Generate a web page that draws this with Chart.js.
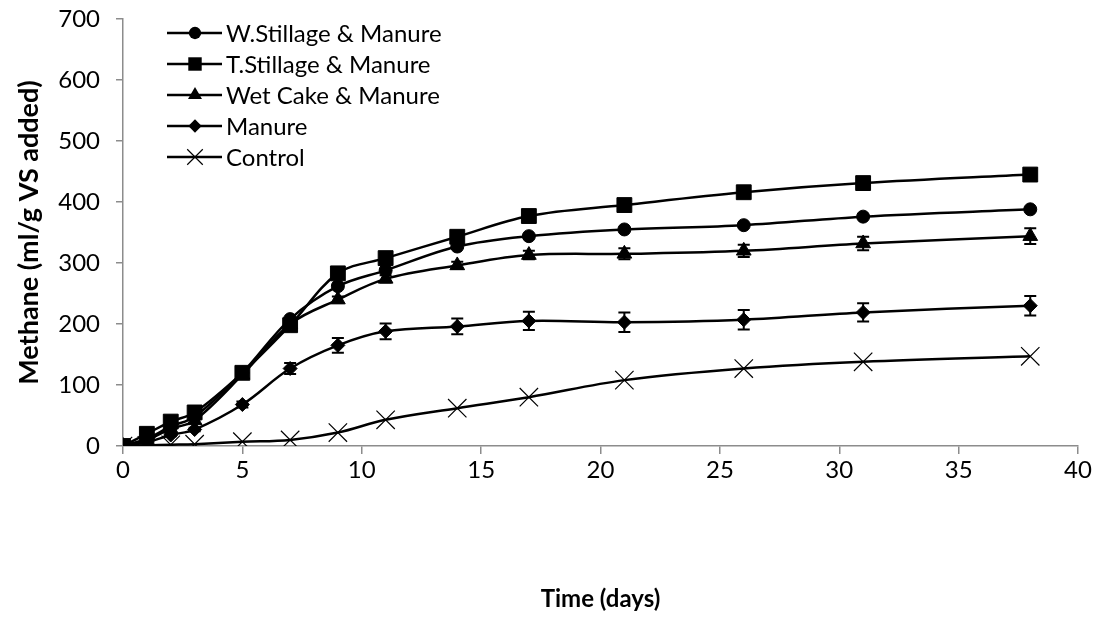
<!DOCTYPE html>
<html>
<head>
<meta charset="utf-8">
<script src="https://cdn.jsdelivr.net/npm/chart.js@4.4.1/dist/chart.umd.min.js"></script>
<style>
  html, body { margin: 0; padding: 0; background: #fff; }
  #wrap { width: 1101px; height: 639px; }
</style>
</head>
<body>
<div id="wrap"><canvas id="c" width="1101" height="639"></canvas></div>
<script>
// Sampling days
const days = [0, 1, 2, 3, 5, 7, 9, 11, 14, 17, 21, 26, 31, 38];

// Cumulative methane yield (ml/g VS added)
const wStillage = [0, 12, 32, 48, 120, 208, 262, 288, 327, 344, 355, 362, 376, 388];
const tStillage = [0, 20, 40, 55, 120, 198, 283, 308, 343, 377, 395, 416, 431, 445];
const wetCake   = [0, 10, 28, 42, 117, 200, 240, 274, 296, 313, 315, 320, 332, 344];
const manure    = [0, 6, 18, 27, 68, 127, 165, 188, 196, 205, 203, 207, 219, 230];
const control   = [0, 1, 2, 3, 7, 10, 22, 43, 62, 80, 108, 127, 138, 147];

// Standard deviations (error bars)
const wetCakeErr = [0, 0, 0, 0, 3, 4, 5, 6, 6, 7, 9, 10, 11, 13];
const manureErr  = [0, 0, 2, 3, 5, 9, 12, 13, 13, 15, 16, 16, 15, 16];

const seriesNames = ['W.Stillage & Manure', 'T.Stillage & Manure', 'Wet Cake & Manure', 'Manure', 'Control'];

const FONT = 'Lato, "Open Sans", sans-serif';

function pts(vals) { return days.map((d, i) => ({ x: d, y: vals[i] })); }

const markerSpecs = [
  { style: 'circle',   radius: 6.5, lw: 1 },
  { style: 'rect',     radius: 10.5, lw: 1 },
  { style: 'triangle', radius: 8.5, lw: 1 },
  { style: 'rectRot',  radius: 7,   lw: 1 },
  { style: 'crossRot', radius: 13,  lw: 1.2 }
];
const seriesValues = [wStillage, tStillage, wetCake, manure, control];

const datasets = seriesValues.map((vals, i) => ({
  label: seriesNames[i],
  data: pts(vals),
  borderColor: '#000',
  backgroundColor: '#000',
  borderWidth: 2.5,
  tension: 0.35,
  pointStyle: markerSpecs[i].style,
  pointRadius: markerSpecs[i].radius,
  pointBorderWidth: markerSpecs[i].lw,
  pointBorderColor: '#000',
  pointBackgroundColor: '#000',
  errors: i === 2 ? wetCakeErr : (i === 3 ? manureErr : null)
}));

// Vertical error bars with caps, placed through the chart scales
const errorBars = {
  id: 'errorBars',
  afterDatasetsDraw(chart) {
    const ctx = chart.ctx;
    const xs = chart.scales.x, ys = chart.scales.y;
    ctx.save();
    ctx.strokeStyle = '#000';
    ctx.lineWidth = 2;
    chart.data.datasets.forEach(ds => {
      if (!ds.errors) return;
      ds.data.forEach((p, i) => {
        const e = ds.errors[i];
        if (!e) return;
        const px = xs.getPixelForValue(p.x);
        const top = ys.getPixelForValue(p.y + e);
        const bot = ys.getPixelForValue(p.y - e);
        ctx.beginPath();
        ctx.moveTo(px, top); ctx.lineTo(px, bot);
        ctx.moveTo(px - 6, top); ctx.lineTo(px + 6, top);
        ctx.moveTo(px - 6, bot); ctx.lineTo(px + 6, bot);
        ctx.stroke();
      });
    });
    ctx.restore();
  }
};

// Legend: a short line with the series marker, followed by its name
function drawMarker(ctx, style, r, x, y, lw) {
  ctx.save();
  ctx.fillStyle = '#000';
  ctx.strokeStyle = '#000';
  ctx.lineWidth = lw;
  ctx.beginPath();
  if (style === 'circle') {
    ctx.arc(x, y, r, 0, Math.PI * 2);
    ctx.fill();
  } else if (style === 'rect') {
    const s = Math.SQRT1_2 * r;
    ctx.rect(x - s, y - s, 2 * s, 2 * s);
    ctx.fill();
  } else if (style === 'triangle') {
    ctx.moveTo(x, y - r);
    ctx.lineTo(x + r * Math.sin(Math.PI / 3), y + r / 2);
    ctx.lineTo(x - r * Math.sin(Math.PI / 3), y + r / 2);
    ctx.closePath();
    ctx.fill();
  } else if (style === 'rectRot') {
    ctx.moveTo(x, y - r); ctx.lineTo(x + r, y); ctx.lineTo(x, y + r); ctx.lineTo(x - r, y);
    ctx.closePath();
    ctx.fill();
  } else if (style === 'crossRot') {
    const s = Math.SQRT1_2 * r;
    ctx.moveTo(x - s, y - s); ctx.lineTo(x + s, y + s);
    ctx.moveTo(x + s, y - s); ctx.lineTo(x - s, y + s);
    ctx.stroke();
  }
  ctx.restore();
}

const lineLegend = {
  id: 'lineLegend',
  afterDraw(chart) {
    const ctx = chart.ctx;
    ctx.save();
    ctx.font = '24px ' + FONT;
    ctx.textBaseline = 'middle';
    ctx.textAlign = 'left';
    ctx.fillStyle = '#000';
    chart.data.datasets.forEach((ds, i) => {
      const y = 33 + i * 31;
      ctx.strokeStyle = '#000';
      ctx.lineWidth = 2.5;
      ctx.beginPath();
      ctx.moveTo(167, y); ctx.lineTo(222, y);
      ctx.stroke();
      const m = markerSpecs[i];
      const r = m.style === 'crossRot' ? 11 : (m.style === 'rect' ? 9.5 : m.radius * 0.95);
      drawMarker(ctx, m.style, r, 195, y, m.lw);
      ctx.fillText(ds.label, 226, y + 1);
    });
    ctx.restore();
  }
};

new Chart(document.getElementById('c'), {
  type: 'line',
  data: { datasets },
  plugins: [errorBars, lineLegend],
  options: {
    responsive: false,
    animation: false,
    layout: { padding: { top: 19, right: 23, left: 0, bottom: 0 } },
    plugins: { legend: { display: false }, tooltip: { enabled: false } },
    scales: {
      x: {
        type: 'linear',
        min: 0, max: 40,
        ticks: { stepSize: 5, color: '#000', font: { family: FONT, size: 24 }, padding: 2 },
        grid: { display: true, drawOnChartArea: false, drawTicks: true, tickLength: 8, color: '#8c8c8c', lineWidth: 1.5 },
        border: { color: '#8c8c8c', width: 1.5 },
        title: { display: true, text: 'Time (days)', color: '#000', font: { family: FONT, size: 24, weight: 'bold' }, padding: { top: 0, bottom: 25 } },
        afterFit(scale) { scale.height = 193; scale.paddingLeft = 0; scale.paddingRight = 0; }
      },
      y: {
        min: 0, max: 700,
        ticks: { stepSize: 100, color: '#000', font: { family: FONT, size: 24 }, padding: 16 },
        grid: { display: true, drawOnChartArea: false, drawTicks: true, tickLength: 7, color: '#8c8c8c', lineWidth: 1.5 },
        border: { color: '#8c8c8c', width: 1.5 },
        title: { display: true, text: 'Methane (ml/g VS added)', color: '#000', font: { family: FONT, size: 27, weight: 'bold' }, padding: { top: 13, bottom: 0 } },
        afterFit(scale) { scale.width = 123; scale.paddingTop = 0; scale.paddingBottom = 0; }
      }
    }
  }
});
</script>
</body>
</html>
